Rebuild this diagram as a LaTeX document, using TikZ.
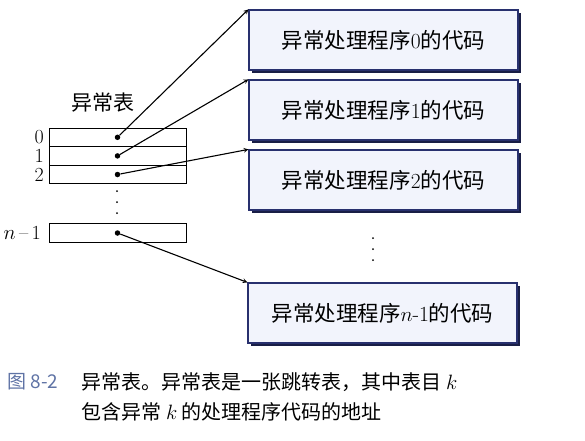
\documentclass[tikz,border=0pt]{standalone}
\usepackage{fontspec}
\newfontfamily\cjk{Noto Sans CJK SC}
\usepackage{tikz}
\usetikzlibrary{shapes, arrows, shadows}
\definecolor{boxline}{RGB}{40,48,110}
\definecolor{boxfill}{RGB}{242,244,252}
\definecolor{boxshade}{RGB}{25,30,70}
\definecolor{capblue}{RGB}{95,115,165}

\begin{document}
\begin{tikzpicture}[x=1pt, y=-1pt,
	handler/.style = {draw = boxline, line width = 1.2pt, fill = boxfill, minimum width = 269pt, minimum height = 60pt, align = center, font = \fontsize{21.5}{24}\selectfont,
		drop shadow = {shadow xshift = 2.5pt, shadow yshift = -2.5pt, fill = boxshade, opacity = 1}},
	row/.style = {draw, line width = 0.7pt, minimum width = 137pt, minimum height = 18.6pt, inner sep = 0pt},
	pt/.style = {circle, fill, inner sep = 0pt, minimum size = 5.5pt},
	vdot/.style = {circle, fill, inner sep = 0pt, minimum size = 2pt},
	lbl/.style = {inner sep = 0pt, font = \fontsize{20}{20}\selectfont, text height = 13pt, text depth = 0pt}]
	\useasboundingbox (0,0) rectangle (585,440);

	\node [handler] (h0) at (383.5,40) {{\cjk 异常处理程序}0{\cjk 的代码}};
	\node [handler] (h1) at (383.5,110) {{\cjk 异常处理程序}1{\cjk 的代码}};
	\node [handler] (h2) at (383.5,180) {{\cjk 异常处理程序}2{\cjk 的代码}};
	\node [handler] (hn) at (382.5,313) {{\cjk 异常处理程序}$n$-1{\cjk 的代码}};
	\node [vdot] (hd1) at (373,238) {};
	\node [vdot] (hd2) at (373,249) {};
	\node [vdot] (hd3) at (373,260) {};

	\node [row] (r0) at (117.5,137.3) {};
	\node [row] (r1) at (117.5,155.9) {};
	\node [row] (r2) at (117.5,174.5) {};
	\node [row] (rn) at (117.5,233) {};
	\node [vdot] (rd1) at (117,191) {};
	\node [vdot] (rd2) at (117,202) {};
	\node [vdot] (rd3) at (117,213) {};

	\node [pt] (p0) at (r0) {};
	\node [pt] (p1) at (r1) {};
	\node [pt] (p2) at (r2) {};
	\node [pt] (pn) at (rn) {};

	\node [lbl, anchor = east] (l0) at (44,137.3) {0};
	\node [lbl, anchor = east] (l1) at (44,155.9) {1};
	\node [lbl, anchor = east] (l2) at (44,174.5) {2};
	\node [lbl, anchor = east] (ln) at (41,233) {$n$\,--\,1};
	\node [font = \cjk\fontsize{21}{24}\selectfont] (tl) at (103,103) {异常表};

	\draw[->,>=stealth,line width = 1.1pt] (p0) -- (h0.north west);
	\draw[->,>=stealth,line width = 1.1pt] (p1) -- (h1.north west);
	\draw[->,>=stealth,line width = 1.1pt] (p2) -- (h2.north west);
	\draw[->,>=stealth,line width = 1.1pt] (pn) -- (hn.north west);

	\node [anchor = west, text = capblue, font = \cjk\fontsize{19}{22}\selectfont] (fg) at (4,382) {图 8-2};
	\node [anchor = west, align = left, font = \cjk\fontsize{20}{30}\selectfont] (cap) at (78,397) {异常表。异常表是一张跳转表，其中表目 $k$\\包含异常 $k$ 的处理程序代码的地址};

	\end{tikzpicture}
\end{document}
